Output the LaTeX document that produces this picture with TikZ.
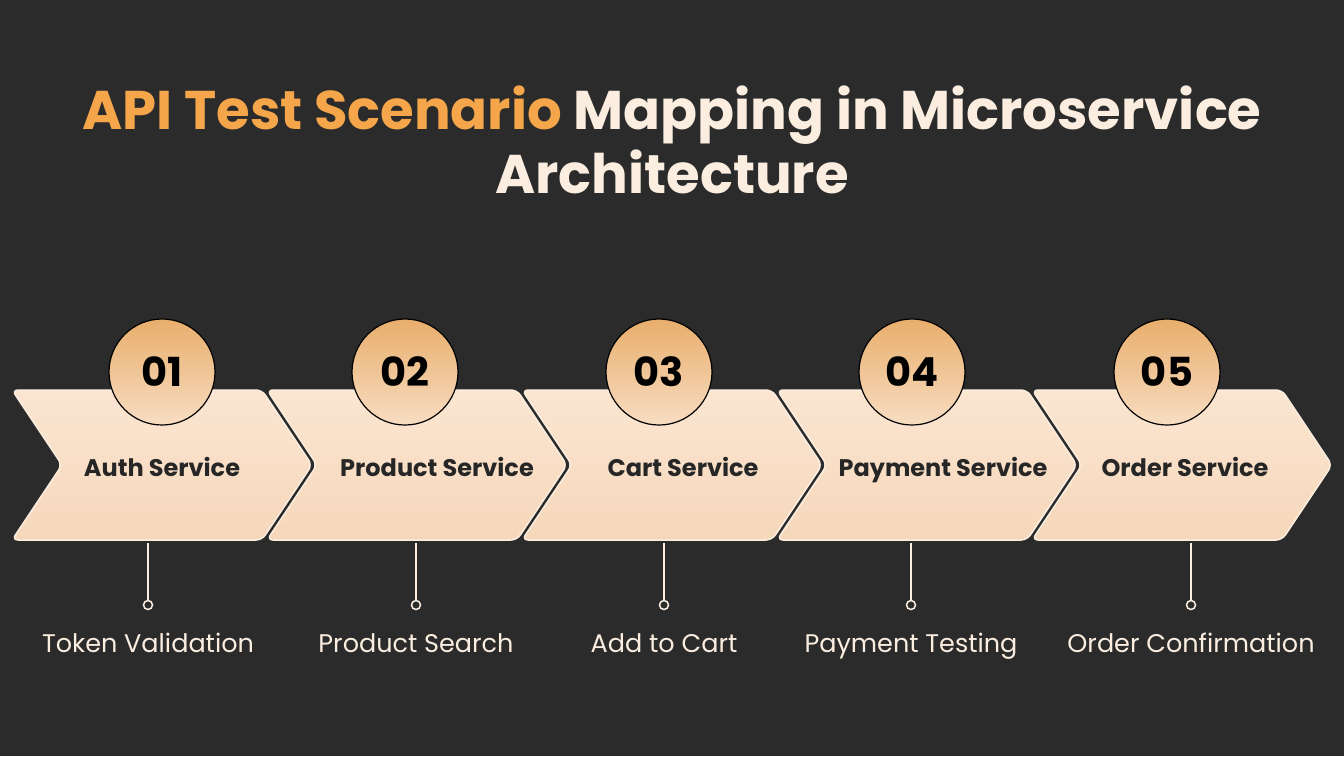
\documentclass[tikz,border=0pt]{standalone}
\usepackage{fontspec}
\setmainfont{Poppins}
\usetikzlibrary{calc}
\definecolor{bg}{HTML}{2B2B2B}
\definecolor{peach}{HTML}{FBE6D2}
\definecolor{peachd}{HTML}{F6D7BA}
\definecolor{orng}{HTML}{F5A54A}
\definecolor{cream}{HTML}{FBEEE0}
\definecolor{circt}{HTML}{E8AE6C}
\definecolor{circb}{HTML}{F8DDC2}
\tikzset{
 chev/.style={top color=peach,bottom color=peachd,draw=cream,line width=1.5pt,rounded corners=6pt},
 num/.style={circle,minimum size=106pt,draw=black,line width=1.2pt,top color=circt,bottom color=circb,font=\fontsize{40}{40}\selectfont\bfseries,text=black,inner sep=0pt},
 lab/.style={font=\fontsize{24}{24}\selectfont\bfseries,text=black!85,anchor=base},
 sub/.style={font=\fontsize{25.5}{25.5}\selectfont,text=cream,anchor=base},
 stem/.style={draw=cream,line width=1.5pt},
 dot/.style={circle,draw=cream,line width=1.5pt,fill=bg,minimum size=9pt,inner sep=0pt}
}
\begin{document}
\begin{tikzpicture}[x=1pt,y=-1pt]
\fill[bg] (0,0) rectangle (1344,756);
\useasboundingbox (0,0) rectangle (1344,756);
\node[font=\fontsize{54.5}{64}\selectfont\bfseries,align=center,text=cream] (title) at (672,140)
 {\textcolor{orng}{API Test Scenario} Mapping in Microservice\\Architecture};
\foreach \i/\x/\cx/\lx/\sx/\t/\s in {
 1/12/162/162/148/Auth Service/Token Validation,
 2/267/405/437/416/Product Service/Product Search,
 3/522/659/683/664/Cart Service/Add to Cart,
 4/777/912/943/911/Payment Service/Payment Testing,
 5/1032/1167/1185/1191/Order Service/Order Confirmation}{
 \path[chev] (\x,390) -- (\x+250,390) -- (\x+300,465) -- (\x+250,540) -- (\x,540) -- (\x+50,465) -- cycle;
 \node[num] (n\i) at (\cx,372) {0\i};
 \node[lab] (l\i) at (\lx,476) {\t};
 \coordinate (a\i) at (\sx,543);
 \node[dot] (d\i) at (\sx,605) {};
 \draw[stem] (a\i) -- (d\i);
 \node[sub] (s\i) at (\sx,652) {\s};
}
\end{tikzpicture}
\end{document}
